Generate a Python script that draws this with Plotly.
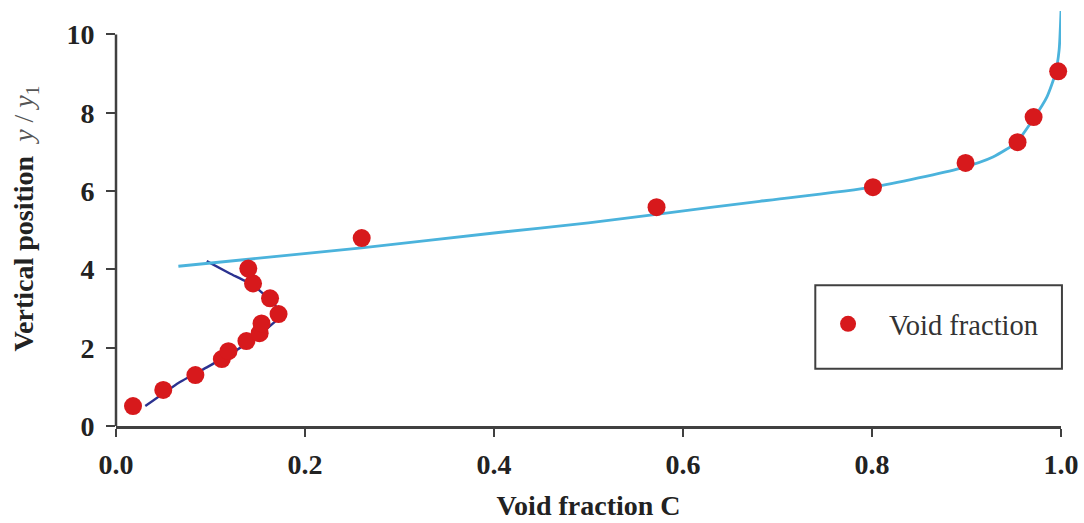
import plotly.graph_objects as go

# Measured void fraction
void_c = [0.018, 0.050, 0.084, 0.112, 0.119, 0.138, 0.152, 0.154, 0.172, 0.163,
          0.145, 0.140, 0.260, 0.572, 0.801, 0.899, 0.954, 0.971, 0.997]
void_y = [0.51, 0.92, 1.30, 1.71, 1.91, 2.17, 2.37, 2.62, 2.86, 3.26,
          3.64, 4.02, 4.80, 5.59, 6.10, 6.72, 7.25, 7.89, 9.06]

# Lower (dark blue) profile curve
lower_c = [0.031, 0.066, 0.097, 0.125, 0.150, 0.168, 0.176, 0.163, 0.145, 0.121, 0.096]
lower_y = [0.51, 1.10, 1.51, 1.90, 2.30, 2.66, 2.85, 3.22, 3.60, 3.89, 4.21]

# Upper (light blue) profile curve
upper_c = [0.066, 0.26, 0.40, 0.50, 0.576, 0.681, 0.801, 0.893, 0.928, 0.953,
           0.971, 0.985, 0.994, 0.998, 1.0]
upper_y = [4.08, 4.55, 4.93, 5.19, 5.42, 5.74, 6.10, 6.58, 6.87, 7.25,
           7.85, 8.40, 9.00, 9.60, 10.6]

x_ticks = [0.0, 0.2, 0.4, 0.6, 0.8, 1.0]
x_tick_text = ["0.0", "0.2", "0.4", "0.6", "0.8", "1.0"]
y_ticks = [0, 2, 4, 6, 8, 10]

AX = "#404040"
SERIF = "Liberation Serif"

fig = go.Figure()
fig.add_trace(go.Scatter(x=lower_c, y=lower_y, mode="lines",
                         line=dict(color="#2b3290", width=2.4, shape="spline", smoothing=0.3),
                         showlegend=False, hoverinfo="skip"))
fig.add_trace(go.Scatter(x=upper_c, y=upper_y, mode="lines",
                         line=dict(color="#4bb3dc", width=2.8, shape="spline", smoothing=0.6),
                         showlegend=False, hoverinfo="skip"))
fig.add_trace(go.Scatter(x=void_c, y=void_y, mode="markers", name="   Void fraction",
                         marker=dict(color="#d7191c", size=18, line=dict(width=0)),
                         cliponaxis=False))

# left axis line only up to y = 10
fig.add_shape(type="line", xref="paper", yref="y", x0=0, x1=0, y0=0, y1=10,
              line=dict(color=AX, width=2.5))
# legend frame
fig.add_shape(type="rect", xref="paper", yref="paper", x0=0.740, x1=1.001, y0=0.138, y1=0.339,
              line=dict(color=AX, width=2), fillcolor="rgba(0,0,0,0)")

fig.update_layout(
    width=1084, height=523,
    margin=dict(l=116, r=23, t=11, b=97, autoexpand=False),
    paper_bgcolor="white", plot_bgcolor="white",
    font=dict(family=SERIF, color="#222222"),
    showlegend=True,
    legend=dict(x=0.7535, y=0.245, xanchor="left", yanchor="middle",
                bgcolor="rgba(0,0,0,0)", borderwidth=0,
                font=dict(family=SERIF, size=28.5, color="#333333")),
    xaxis=dict(range=[0, 1.0], tickvals=x_ticks, ticktext=x_tick_text, automargin=False,
               showgrid=False, zeroline=False, showline=True, linecolor=AX, linewidth=2.5,
               ticks="outside", ticklen=8, tickwidth=2, tickcolor=AX,
               ticklabelstandoff=4,
               tickfont=dict(family=SERIF, size=28, weight="bold", color="#222222"),
               title=dict(text="<b>Void fraction C</b>", standoff=17,
                          font=dict(family=SERIF, size=28, color="#222222"))),
    yaxis=dict(range=[0, 10.6], tickvals=y_ticks, automargin=False,
               showgrid=False, zeroline=False, showline=False,
               ticks="outside", ticklen=9, tickwidth=2, tickcolor=AX,
               ticklabelstandoff=6,
               tickfont=dict(family=SERIF, size=28, weight="bold", color="#222222"),
               title=dict(text="<b>Vertical position</b>  <span style='color:#555'><i>y</i> / <i>y</i><sub>1</sub></span>",
                          standoff=24,
                          font=dict(family=SERIF, size=28, color="#222222"))),
)

fig.write_html("out.html", config={"displayModeBar": False},
               post_script="document.body.style.margin='0';document.body.style.overflow='hidden';")
